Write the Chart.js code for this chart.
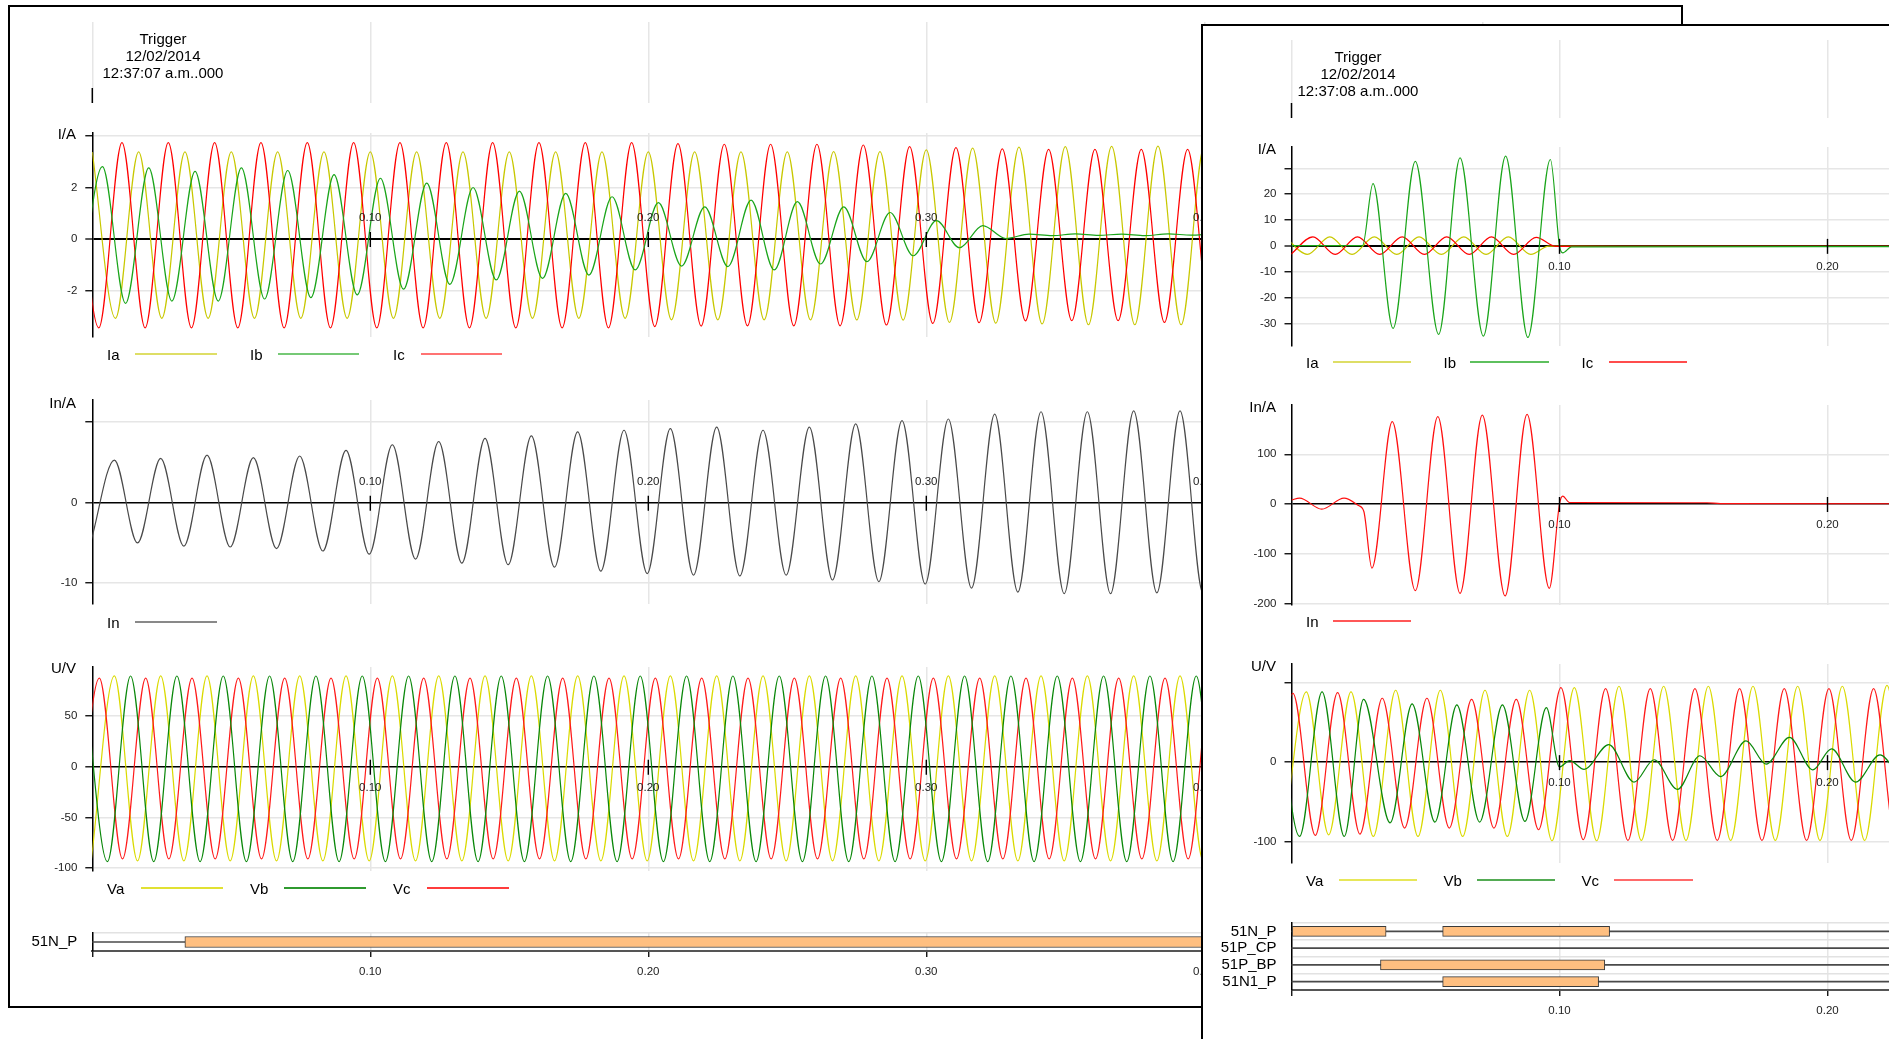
<!DOCTYPE html>
<html>
<head>
<meta charset="utf-8">
<title>Oscillography</title>
<script src="https://cdn.jsdelivr.net/npm/chart.js@4.4.1/dist/chart.umd.min.js"></script>
<style>
  html, body { margin:0; padding:0; background:#fff; width:1889px; height:1039px; overflow:hidden;
    font-family:"Liberation Sans", Arial, Helvetica, sans-serif; }
  .win { position:absolute; box-sizing:border-box; border:2px solid #000; background:#fff; overflow:hidden; }
  .win canvas { position:absolute; }
  .lbl { position:absolute; white-space:nowrap; color:#000; font-size:15px; line-height:17px; }
  .trig { position:absolute; white-space:nowrap; color:#000; font-size:15px; line-height:17px; text-align:center; width:220px; }
  .key { position:absolute; height:0; border-top:2px solid; }
</style>
</head>
<body>
<div id="rec1" class="win" style="left:8px;top:5px;width:1675px;height:1003px;z-index:1"></div>
<div id="rec2" class="win" style="left:1201px;top:24px;width:800px;height:1100px;z-index:2"></div>
<script>
// ---------------------------------------------------------------------------
// Time axis (seconds after trigger)
const timeTicks = [0.1, 0.2, 0.3, 0.4, 0.5];
const HALF_CYCLE = 1 / 120;          // 60 Hz network: half a cycle

// ---------------------------------------------------------------------------
// Record 1 - trigger 12/02/2014 12:37:07
// Successive half-cycle extremes (peak, trough, ...) of each analog channel,
// the first extreme occurring at the given start time.
const rec1IaStart = 0;
const rec1Ia = [3.38, -3.08, 3.38, -3.08, 3.38, -3.08, 3.38, -3.08, 3.38, -3.08,
  3.38, -3.08, 3.38, -3.08, 3.38, -3.08, 3.38, -3.08, 3.38, -3.08,
  3.38, -3.08, 3.38, -3.08, 3.38, -3.14, 3.38, -3.14, 3.38, -3.14,
  3.38, -3.14, 3.39, -3.14, 3.39, -3.15, 3.46, -3.24, 3.53, -3.27,
  3.57, -3.30, 3.59, -3.33, 3.60, -3.33, 3.61, -3.33, 3.61, -3.34, 3.61];

const rec1IbStart = -0.0047;
const rec1Ib = [-2.45, 2.81, -2.50, 2.76, -2.41, 2.63, -2.41, 2.76, -2.33, 2.66,
  -2.28, 2.50, -2.17, 2.36, -1.95, 2.17, -1.76, 2.00, -1.59, 1.86,
  -1.53, 1.77, -1.40, 1.64, -1.20, 1.41, -1.05, 1.25, -1.07, 1.51,
  -1.20, 1.45, -0.97, 1.25, -0.88, 1.03, -0.65, 0.71, -0.34, 0.52,
  0.02, 0.19, 0.13, 0.20, 0.14, 0.19, 0.13, 0.20, 0.15, 0.19, 0.14];

const rec1IcStart = -0.0060;
const rec1Ic = [3.74, -3.45, 3.74, -3.45, 3.74, -3.45, 3.74, -3.45, 3.74, -3.45,
  3.74, -3.45, 3.74, -3.45, 3.74, -3.45, 3.74, -3.45, 3.74, -3.45,
  3.74, -3.45, 3.74, -3.45, 3.74, -3.40, 3.70, -3.38, 3.68, -3.37,
  3.68, -3.37, 3.68, -3.37, 3.65, -3.34, 3.59, -3.28, 3.55, -3.25,
  3.50, -3.18, 3.48, -3.17, 3.48, -3.17, 3.48, -3.24, 3.48, -3.20, 3.48];

const rec1InStart = -0.0004;
const rec1In = [-4.7, 5.3, -5.0, 5.5, -5.4, 5.9, -5.5, 5.6, -5.7, 5.8,
  -6.0, 6.5, -6.4, 7.2, -7.0, 7.6, -7.5, 8.0, -7.7, 8.3,
  -8.0, 8.8, -8.5, 9.0, -8.8, 9.2, -9.0, 9.4, -9.1, 9.0,
  -9.0, 9.4, -9.6, 9.8, -9.8, 10.2, -10.1, 10.4, -10.6, 11.0,
  -11.1, 11.3, -11.3, 11.3, -11.3, 11.4, -11.2, 11.4, -11.3, 11.4, -11.3];

const rec1VaStart = -0.0004;
const rec1Va = [-93, 89.7, -93, 89.7, -93, 89.7, -93, 89.7, -93, 89.7,
  -93, 89.7, -93, 89.7, -93, 89.7, -93, 89.7, -93, 89.7,
  -93, 89.7, -93, 89.7, -93, 89.7, -93, 89.7, -93, 89.7,
  -93, 89.7, -93, 89.7, -93, 89.7, -93, 89.7, -93, 89.7,
  -93, 89.7, -93, 89.7, -93, 89.7, -93, 89.7, -93, 89.7, -93];

const rec1VbStart = -0.0029;
const rec1Vb = [89.5, -93.7, 89.5, -93.7, 89.5, -93.7, 89.5, -93.7, 89.5, -93.7,
  89.5, -93.7, 89.5, -93.7, 89.5, -93.7, 89.5, -93.7, 89.5, -93.7,
  89.5, -93.7, 89.5, -93.7, 89.5, -93.7, 89.5, -93.7, 89.5, -93.7,
  89.5, -93.7, 89.5, -93.7, 89.5, -93.7, 89.5, -93.7, 89.5, -93.7,
  89.5, -93.7, 89.5, -93.7, 89.5, -93.7, 89.5, -93.7, 89.5, -93.7, 89.5];

const rec1VcStart = -0.0058;
const rec1Vc = [-91, 87.5, -91, 87.5, -91, 87.5, -91, 87.5, -91, 87.5,
  -91, 87.5, -91, 87.5, -91, 87.5, -91, 87.5, -91, 87.5,
  -91, 87.5, -91, 87.5, -91, 87.5, -91, 87.5, -91, 87.5,
  -91, 87.5, -91, 87.5, -91, 87.5, -91, 87.5, -91, 87.5,
  -91, 87.5, -91, 87.5, -91, 87.5, -91, 87.5, -91, 87.5, -91];

// Digital channels of record 1 (pickup intervals, s)
const rec1Channels = ['51N_P'];
const rec1BarChannel = ['51N_P'];
const rec1BarStart = [0.0333];
const rec1BarEnd = [0.62];

// ---------------------------------------------------------------------------
// Record 2 - trigger 12/02/2014 12:37:08 (fault, cleared at 0.10 s)
const rec2IaT = [-0.0024, 0.0059, 0.0143, 0.0226, 0.0309, 0.0393, 0.0476, 0.0559, 0.0643, 0.0726, 0.0809, 0.0893, 0.0960, 0.1500, 0.2400];
const rec2IaV = [3.5, -3.3, 3.5, -3.3, 3.5, -3.3, 3.5, -3.3, 3.5, -3.3, 3.5, -3.3, -0.1, -0.2, -0.2];

const rec2IbT = [0, 0.0265, 0.0304, 0.0379, 0.0462, 0.0549, 0.0629, 0.0716, 0.0799, 0.0882, 0.0966, 0.1000, 0.1012, 0.1045, 0.2400];
const rec2IbV = [0.1, 0.1, 24.1, -31.9, 32.7, -34.2, 34.0, -34.9, 34.7, -35.4, 33.4, 0, -2.7, -0.4, -0.3];

const rec2IcT = [-0.0003, 0.0080, 0.0163, 0.0246, 0.0329, 0.0413, 0.0496, 0.0579, 0.0663, 0.0746, 0.0829, 0.0913, 0.0985, 0.1500, 0.2400];
const rec2IcV = [-3.3, 3.5, -3.3, 3.5, -3.3, 3.5, -3.3, 3.5, -3.3, 3.5, -3.3, 3.3, -0.2, -0.2, -0.2];

const rec2InT = [0, 0.0030, 0.0113, 0.0196, 0.0250, 0.0270, 0.0300, 0.0376, 0.0462, 0.0546, 0.0629, 0.0712, 0.0797, 0.0879, 0.0962, 0.1000, 0.1012, 0.1037, 0.1550, 0.1600, 0.2400];
const rec2InV = [8, 12, -10.5, 12, -3, -15, -129, 165.6, -174.4, 175.7, -179.7, 179, -185, 180.5, -169.6, 0, 16, 3, 2.5, 0.8, 0.5];

const rec2VaStart = -0.0028;
const rec2Va = [-91, 88, -91, 88, -93, 90, -93, 90, -93, 90, -93, 90, -98.4, 93.4, -98.4,
  95, -98, 95, -98, 95, -98, 95, -98, 95, -98, 95, -98, 96, -98, 95];

const rec2VcStart = -0.0078;
const rec2Vc = [-91, 86, -91.7, 87, -90, 80, -82.5, 80, -82.5, 78.5, -82.5, 78.5, -84.6, 93.4, -97,
  92, -98, 92, -98, 92, -98, 92, -98, 92, -98, 92, -98, 92, -98, 92];

const rec2VbT = [-0.0053, 0.0030, 0.0114, 0.0197, 0.0269, 0.0368, 0.0450, 0.0535, 0.0617, 0.0702, 0.0787, 0.0871, 0.0951,
  0.1000, 0.1038, 0.1092, 0.1184, 0.1278, 0.1353, 0.1440, 0.1524, 0.1601, 0.1696, 0.1771, 0.1858, 0.1945, 0.2015, 0.2105, 0.2196, 0.2285, 0.2370];
const rec2VbV = [88, -93, 88, -93, 78.6, -76, 73, -75, 71.6, -75, 71.6, -74.2, 68.3,
  -6, 2, -9, 22, -25, 3, -34, 8, -18, 26.6, -2.5, 31, -9.6, 16.6, -25, 9, -20, 5];

// Digital channels of record 2
const rec2Channels = ['51N_P', '51P_CP', '51P_BP', '51N1_P'];
const rec2BarChannel = ['51N_P', '51N_P', '51P_BP', '51N1_P'];
const rec2BarStart = [0, 0.0564, 0.0332, 0.0564];
const rec2BarEnd = [0.0353, 0.1187, 0.1169, 0.1146];

// ---------------------------------------------------------------------------
const FONT = '"Liberation Sans", Arial, Helvetica, sans-serif';
Chart.defaults.font.family = FONT;
Chart.defaults.animation = false;
Chart.defaults.responsive = false;
const GRID = '#e6e6e6';

function fromStart(t0, vals) { return vals.map((v, i) => ({ x: t0 + i * HALF_CYCLE, y: v })); }
function fromTimes(ts, vals) { return vals.map((v, i) => ({ x: ts[i], y: v })); }

const W1 = { el: document.getElementById('rec1'), ox: 10, oy: 7, left: 10, right: 1670, axisX: 92.3, pxPerSec: 2780 };
const W2 = { el: document.getElementById('rec2'), ox: 1203, oy: 26, left: 1203, right: 1995, axisX: 1291.5, pxPerSec: 2680 };

function place(win, el, x, y) {
  el.style.left = (x - win.ox) + 'px';
  el.style.top = (y - win.oy) + 'px';
  win.el.appendChild(el);
}
function makeCanvas(win, x, y, w, h) {
  const c = document.createElement('canvas');
  c.width = w; c.height = h;
  c.style.width = w + 'px'; c.style.height = h + 'px';
  place(win, c, x, y);
  return c;
}
function label(win, text, x, y, align, size) {
  const d = document.createElement('div');
  d.className = 'lbl';
  d.textContent = text;
  if (size) d.style.fontSize = size + 'px';
  const tx = align === 'right' ? '-100%' : align === 'center' ? '-50%' : '0';
  d.style.transform = 'translate(' + tx + ', -50%)';
  place(win, d, x, y);
}
function key(win, x1, x2, y, color) {
  const d = document.createElement('div');
  d.className = 'key';
  d.style.width = (x2 - x1) + 'px';
  d.style.borderTopColor = color;
  place(win, d, x1, y - 1);
}
function trigger(win, cx, y, lines) {
  const d = document.createElement('div');
  d.className = 'trig';
  d.innerHTML = lines.join('<br>');
  place(win, d, cx - 110, y - 8.5);
}

// Short time ticks across the zero line, with their labels
const zeroTicks = {
  id: 'zeroTicks',
  afterDatasetsDraw(chart, args, opts) {
    const { ctx, chartArea: a, scales: { x, y } } = chart;
    const y0 = y.getPixelForValue(0);
    ctx.save();
    ctx.strokeStyle = '#000'; ctx.lineWidth = 1.4;
    ctx.fillStyle = '#222'; ctx.font = '11.5px ' + FONT;
    ctx.textAlign = 'center'; ctx.textBaseline = 'middle';
    timeTicks.forEach(v => {
      const px = x.getPixelForValue(v);
      if (px > a.right) return;
      ctx.beginPath(); ctx.moveTo(px, y0 - 7); ctx.lineTo(px, y0 + 8); ctx.stroke();
      ctx.fillText(v.toFixed(2), px, opts.side === 'above' ? y0 - 21 : y0 + 21);
    });
    ctx.restore();
  }
};
// Inactive state line of every digital channel
const channelLines = {
  id: 'channelLines',
  beforeDatasetsDraw(chart) {
    const { ctx, chartArea: a, scales: { y } } = chart;
    ctx.save();
    ctx.strokeStyle = '#4a4a4a'; ctx.lineWidth = 1.6;
    chart.data.labels.forEach((_, i) => {
      const py = y.getPixelForValue(i);
      ctx.beginPath(); ctx.moveTo(a.left, py); ctx.lineTo(a.right, py); ctx.stroke();
    });
    ctx.restore();
  }
};
// Trigger instant marker in the header strip
const triggerMark = {
  id: 'triggerMark',
  afterDraw(chart) {
    const { ctx, chartArea: a, scales: { x } } = chart;
    const px = x.getPixelForValue(0);
    ctx.save();
    ctx.strokeStyle = '#000'; ctx.lineWidth = 1.5;
    ctx.beginPath(); ctx.moveTo(px, a.bottom - 15); ctx.lineTo(px, a.bottom); ctx.stroke();
    ctx.restore();
  }
};

function timeMax(win) { return (win.right - win.axisX) / win.pxPerSec; }
function timeTickList(win) {
  const max = timeMax(win);
  return [0].concat(timeTicks).filter(v => v <= max).map(v => ({ value: v }));
}

function timeScale(win) {
  return {
    type: 'linear', min: 0, max: timeMax(win),
    afterBuildTicks: s => { s.ticks = timeTickList(win); },
    ticks: { display: false },
    grid: { color: GRID, lineWidth: 1.5, drawTicks: false },
    border: { display: false },
    afterFit: s => { s.height = 0; s.paddingLeft = 0; s.paddingRight = 0; }
  };
}

function headerPanel(win, top, bottom) {
  const w = Math.round(win.right - win.left), h = Math.round(bottom - top);
  const cv = makeCanvas(win, win.left, top, w, h);
  new Chart(cv, {
    type: 'line',
    data: { datasets: [] },
    options: {
      events: [],
      layout: { padding: { left: win.axisX - win.left, top: 0, right: 0, bottom: 0 } },
      plugins: { legend: { display: false }, tooltip: { enabled: false } },
      scales: { x: timeScale(win), y: { display: false } }
    },
    plugins: [triggerMark]
  });
}

function wavePanel(win, g, series) {
  const PAD = 10;
  const w = Math.round(win.right - win.left);
  const h = Math.round(g.bottom - g.top) + 2 * PAD;
  const cv = makeCanvas(win, win.left, g.top - PAD, w, h);
  const yW = win.axisX - win.left;
  const yMax = (g.zero - g.top) / g.unit, yMin = (g.zero - g.bottom) / g.unit;
  const topTick = g.ticks[g.ticks.length - 1];
  new Chart(cv, {
    type: 'line',
    data: {
      datasets: series.map(s => ({
        data: s.data, borderColor: s.color, borderWidth: 1.2, pointRadius: 0,
        cubicInterpolationMode: 'monotone', fill: false
      }))
    },
    options: {
      events: [],
      layout: { padding: { top: PAD, bottom: PAD, left: 0, right: 0 } },
      plugins: { legend: { display: false }, tooltip: { enabled: false }, zeroTicks: { side: g.side } },
      scales: {
        x: timeScale(win),
        y: {
          min: yMin, max: yMax,
          afterBuildTicks: s => { s.ticks = g.ticks.map(v => ({ value: v })); },
          ticks: {
            padding: 8, color: '#222', font: { size: 11.5 },
            callback: v => (g.hideTop && v === topTick) ? '' : String(v)
          },
          grid: {
            color: c => (c.tick && c.tick.value === 0) ? '#000' : GRID,
            lineWidth: c => (c.tick && c.tick.value === 0) ? g.zeroW : 1.5,
            tickColor: '#000', tickLength: 7, tickWidth: 1.3
          },
          border: { color: '#000', width: 1.5 },
          afterFit: s => { s.width = yW; s.paddingTop = 0; s.paddingBottom = 0; }
        }
      }
    },
    plugins: [zeroTicks]
  });
}

function digitalPanel(win, g, channels, barCh, barS, barE) {
  const PAD = 8, XH = 30;
  const w = Math.round(win.right - win.left);
  const h = Math.round(g.bottom - g.top) + PAD + XH;
  const cv = makeCanvas(win, win.left, g.top - PAD, w, h);
  const yW = win.axisX - win.left;
  new Chart(cv, {
    type: 'bar',
    data: {
      labels: channels,
      datasets: [{
        data: barCh.map((c, i) => ({ x: [barS[i], barE[i]], y: c })),
        backgroundColor: '#ffbf80', borderColor: '#3a3a3a', borderWidth: 1,
        borderSkipped: false, barThickness: g.barH
      }]
    },
    options: {
      indexAxis: 'y', events: [],
      layout: { padding: { top: PAD, right: 0, bottom: 0, left: 0 } },
      plugins: { legend: { display: false }, tooltip: { enabled: false } },
      scales: {
        x: {
          type: 'linear', position: 'bottom', min: 0, max: timeMax(win),
          afterBuildTicks: s => { s.ticks = timeTickList(win); },
          grid: { color: GRID, lineWidth: 1.5, tickColor: '#000', tickLength: 6, tickWidth: 1.3 },
          border: { color: '#555', width: 2 },
          ticks: { padding: 8, color: '#222', font: { size: 11.5 }, maxRotation: 0, autoSkip: false,
            callback: v => v === 0 ? '' : v.toFixed(2) },
          afterFit: s => { s.height = XH; s.paddingLeft = 0; s.paddingRight = 0; }
        },
        y: {
          type: 'category',
          grid: { offset: true, color: '#e2e2e2', lineWidth: 1.5, drawTicks: false },
          border: { color: '#000', width: 1.5 },
          ticks: { padding: 15, color: '#000', font: { size: 15 }, autoSkip: false },
          afterFit: s => { s.width = yW; s.paddingTop = 0; s.paddingBottom = 0; }
        }
      }
    },
    plugins: [channelLines]
  });
}

// ---------------------------------------------------------------------------
// Record 1
const C = {
  ia: '#c8c800', ib: '#1aa51a', ic: '#ff0000', inL: '#4a4a4a', inR: '#ff1010',
  va: '#dada00', vb: '#0a880a', vc: '#ff1a1a'
};

headerPanel(W1, 22, 103);
wavePanel(W1, { top: 133, bottom: 337, zero: 239, unit: 25.75, ticks: [-2, 0, 2, 4], hideTop: true, side: 'above', zeroW: 2 }, [
  { data: fromStart(rec1IbStart, rec1Ib), color: C.ib },
  { data: fromStart(rec1IcStart, rec1Ic), color: C.ic },
  { data: fromStart(rec1IaStart, rec1Ia), color: C.ia }
]);
wavePanel(W1, { top: 400, bottom: 604, zero: 502.7, unit: 8.05, ticks: [-10, 0, 10], hideTop: true, side: 'above', zeroW: 1.6 }, [
  { data: fromStart(rec1InStart, rec1In), color: C.inL }
]);
wavePanel(W1, { top: 667, bottom: 871, zero: 766.7, unit: 1.0133, ticks: [-100, -50, 0, 50], hideTop: false, side: 'below', zeroW: 1.6 }, [
  { data: fromStart(rec1VbStart, rec1Vb), color: C.vb },
  { data: fromStart(rec1VcStart, rec1Vc), color: C.vc },
  { data: fromStart(rec1VaStart, rec1Va), color: C.va }
]);
digitalPanel(W1, { top: 933, bottom: 951, barH: 11 }, rec1Channels, rec1BarChannel, rec1BarStart, rec1BarEnd);

trigger(W1, 163, 38, ['Trigger', '12/02/2014', '12:37:07 a.m..000']);
label(W1, 'I/A', 76, 133, 'right');
label(W1, 'In/A', 76, 402, 'right');
label(W1, 'U/V', 76, 667, 'right');
label(W1, 'Ia', 107, 353.5); key(W1, 135, 217, 353.5, 'rgba(200,200,0,0.6)');
label(W1, 'Ib', 250, 353.5); key(W1, 278, 359, 353.5, 'rgba(26,165,26,0.6)');
label(W1, 'Ic', 393, 353.5); key(W1, 421, 502, 353.5, 'rgba(255,0,0,0.55)');
label(W1, 'In', 107, 621.7); key(W1, 135, 217, 621.7, 'rgba(74,74,74,0.65)');
label(W1, 'Va', 107, 888); key(W1, 141, 223, 888, 'rgba(218,218,0,0.8)');
label(W1, 'Vb', 250, 888); key(W1, 284, 366, 888, 'rgba(10,136,10,0.85)');
label(W1, 'Vc', 393, 888); key(W1, 427, 509, 888, 'rgba(255,26,26,0.85)');

// ---------------------------------------------------------------------------
// Record 2
headerPanel(W2, 40, 118);
wavePanel(W2, { top: 146.7, bottom: 346, zero: 245.7, unit: 2.59, ticks: [-30, -20, -10, 0, 10, 20, 30], hideTop: true, side: 'below', zeroW: 2 }, [
  { data: fromTimes(rec2IbT, rec2IbV), color: C.ib },
  { data: fromTimes(rec2IcT, rec2IcV), color: C.ic },
  { data: fromTimes(rec2IaT, rec2IaV), color: C.ia }
]);
wavePanel(W2, { top: 405, bottom: 605, zero: 504, unit: 0.497, ticks: [-200, -100, 0, 100], hideTop: false, side: 'below', zeroW: 1.6 }, [
  { data: fromTimes(rec2InT, rec2InV), color: C.inR }
]);
wavePanel(W2, { top: 664, bottom: 863.3, zero: 762.3, unit: 0.8, ticks: [-100, 0, 100], hideTop: true, side: 'below', zeroW: 1.6 }, [
  { data: fromTimes(rec2VbT, rec2VbV), color: C.vb },
  { data: fromStart(rec2VcStart, rec2Vc), color: C.vc },
  { data: fromStart(rec2VaStart, rec2Va), color: C.va }
]);
digitalPanel(W2, { top: 923, bottom: 990, barH: 10 }, rec2Channels, rec2BarChannel, rec2BarStart, rec2BarEnd);

trigger(W2, 1358, 56, ['Trigger', '12/02/2014', '12:37:08 a.m..000']);
label(W2, 'I/A', 1276, 148, 'right');
label(W2, 'In/A', 1276, 406, 'right');
label(W2, 'U/V', 1276, 665, 'right');
label(W2, 'Ia', 1306, 361.7); key(W2, 1333, 1411, 361.7, 'rgba(200,200,0,0.6)');
label(W2, 'Ib', 1443.6, 361.7); key(W2, 1470, 1548.5, 361.7, 'rgba(26,165,26,0.7)');
label(W2, 'Ic', 1581.5, 361.7); key(W2, 1609, 1687, 361.7, 'rgba(255,0,0,0.7)');
label(W2, 'In', 1306, 620.7); key(W2, 1333, 1411, 620.7, 'rgba(255,16,16,0.7)');
label(W2, 'Va', 1306, 880); key(W2, 1339, 1417, 880, 'rgba(218,218,0,0.65)');
label(W2, 'Vb', 1443.6, 880); key(W2, 1476.6, 1555, 880, 'rgba(10,136,10,0.7)');
label(W2, 'Vc', 1581.5, 880); key(W2, 1614, 1693, 880, 'rgba(255,26,26,0.65)');
</script>
</body>
</html>
